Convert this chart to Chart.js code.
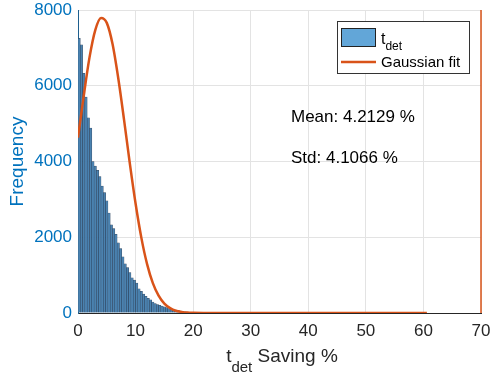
<!DOCTYPE html>
<html>
<head>
<meta charset="utf-8">
<script src="https://cdn.jsdelivr.net/npm/chart.js@4.4.0/dist/chart.umd.min.js"></script>
<style>
  html, body { margin: 0; padding: 0; background: #ffffff; }
  #wrap { width: 490px; height: 376px; }
</style>
</head>
<body>
<div id="wrap"><canvas id="histChart" width="490" height="376"></canvas></div>
<script>
// =================== DATA ===================
// histogram bins (width 0.4 %), counts
const binWidth = 0.4;
const binCounts = [
  7250, 7080, 6330, 5700, 5150, 4880, 4000, 3880, 3770, 3600,
  3350, 3180, 2960, 2640, 2330, 2230, 2080, 1850, 1700, 1480,
  1300, 1200, 1070, 930, 870, 790, 640, 570, 500, 440,
  390, 350, 290, 250, 225, 200, 180, 165, 140, 120,
  100, 90, 78, 68, 50, 38, 30, 25, 20, 18,
  15, 20, 12, 10, 14, 8, 6, 5
];

// gaussian fit curve
const fitX = [0, 1, 2, 3, 4, 5, 6, 7, 8, 9, 10, 11, 12, 13, 14, 15, 16, 17, 18, 19, 20, 22, 25, 30, 40, 50, 60.6];
const fitY = [4630, 5740, 6750, 7470, 7790, 7660, 7100, 6190, 5100, 3950, 2890, 1990, 1290, 790, 460, 250, 130, 60, 30, 12, 5, 1, 0, 0, 0, 0, 0];

const xTicks = [0, 10, 20, 30, 40, 50, 60, 70];
const yTicks = [0, 2000, 4000, 6000, 8000];

const meanText = 'Mean: 4.2129 %';
const stdText = 'Std: 4.1066 %';
const legendLabels = ['t', 'det', 'Gaussian fit'];

// =================== HELPERS ===================
const FONT = '"Liberation Sans", Arial, Helvetica, sans-serif';
const BLUE = '#0072BD';
const ORANGE = '#D95319';

const histPoints = binCounts.map((c, i) => ({ x: i * binWidth + binWidth / 2, y: c }));
const fitPoints = fitX.map((x, i) => ({ x: x, y: fitY[i] }));

// draws the texts that Chart.js can't do (subscripts, free annotations, custom legend)
const extrasPlugin = {
  id: 'extras',
  afterDraw(chart) {
    const ctx = chart.ctx;
    const area = chart.chartArea;
    ctx.save();

    // right axis line (orange)
    ctx.strokeStyle = ORANGE;
    ctx.lineWidth = 1.5;
    ctx.beginPath();
    ctx.moveTo(area.right, area.top);
    ctx.lineTo(area.right, area.bottom);
    ctx.stroke();

    // annotations
    ctx.fillStyle = '#000000';
    ctx.font = '17px ' + FONT;
    ctx.textAlign = 'left';
    ctx.textBaseline = 'middle';
    ctx.fillText(meanText, 291, 117);
    ctx.fillText(stdText, 291, 158);

    // legend box
    ctx.fillStyle = '#ffffff';
    ctx.fillRect(337.5, 21.5, 132, 52);
    ctx.strokeStyle = '#333333';
    ctx.lineWidth = 1;
    ctx.strokeRect(337.5, 21.5, 132, 52);

    ctx.fillStyle = '#62A6D8';
    ctx.fillRect(341, 28, 35, 19);
    ctx.strokeStyle = '#222222';
    ctx.strokeRect(341.5, 28.5, 34, 18);

    ctx.strokeStyle = ORANGE;
    ctx.lineWidth = 2.5;
    ctx.beginPath();
    ctx.moveTo(341, 62);
    ctx.lineTo(376, 62);
    ctx.stroke();

    ctx.fillStyle = '#000000';
    ctx.textBaseline = 'alphabetic';
    ctx.font = '16px ' + FONT;
    ctx.fillText(legendLabels[0], 381, 44);
    const tW = ctx.measureText(legendLabels[0]).width;
    ctx.font = '12px ' + FONT;
    ctx.fillText(legendLabels[1], 381 + tW, 50);
    ctx.font = '15px ' + FONT;
    ctx.fillText(legendLabels[2], 381, 67);

    // x axis title: t_det Saving %
    ctx.fillStyle = '#262626';
    const bigFont = '19px ' + FONT;
    const subFont = '15px ' + FONT;
    ctx.font = bigFont;
    const w1 = ctx.measureText('t').width;
    const w3 = ctx.measureText(' Saving %').width;
    ctx.font = subFont;
    const w2 = ctx.measureText('det').width;
    let x0 = 282 - (w1 + w2 + w3) / 2;
    ctx.font = bigFont;
    ctx.fillText('t', x0, 362);
    ctx.font = subFont;
    ctx.fillText('det', x0 + w1, 372);
    ctx.font = bigFont;
    ctx.fillText(' Saving %', x0 + w1 + w2, 362);

    ctx.restore();
  }
};

// =================== CHART ===================
const ctx = document.getElementById('histChart');

new Chart(ctx, {
  type: 'bar',
  data: {
    datasets: [
      {
        type: 'line',
        label: 'Gaussian fit',
        data: fitPoints,
        borderColor: ORANGE,
        borderWidth: 2.5,
        pointRadius: 0,
        cubicInterpolationMode: 'monotone',
        fill: false,
        order: 0
      },
      {
        type: 'bar',
        label: 'tdet',
        data: histPoints,
        backgroundColor: '#4A82B0',
        borderColor: 'rgba(25, 45, 70, 0.85)',
        borderWidth: 0.5,
        barPercentage: 1,
        categoryPercentage: 1,
        order: 1
      }
    ]
  },
  options: {
    responsive: false,
    animation: false,
    layout: { padding: { top: 10, right: 9, left: 0, bottom: 0 } },
    plugins: {
      legend: { display: false },
      tooltip: { enabled: false }
    },
    scales: {
      x: {
        type: 'linear',
        min: 0,
        max: 70,
        offset: false,
        afterBuildTicks: (scale) => { scale.ticks = xTicks.map(v => ({ value: v })); },
        afterFit: (scale) => {
          scale.height = 63;
          scale.paddingLeft = 0;
          scale.paddingRight = 0;
        },
        ticks: {
          color: '#262626',
          font: { size: 17, family: FONT },
          padding: 8,
          maxRotation: 0,
          callback: (v) => String(v)
        },
        grid: { color: '#e3e3e3', drawTicks: false, offset: false },
        border: { color: '#262626', width: 1 }
      },
      y: {
        min: 0,
        max: 8000,
        afterBuildTicks: (scale) => { scale.ticks = yTicks.map(v => ({ value: v })); },
        afterFit: (scale) => {
          scale.width = 78;
          scale.paddingTop = 0;
          scale.paddingBottom = 0;
        },
        ticks: {
          color: BLUE,
          font: { size: 17, family: FONT },
          padding: 6,
          callback: (v) => String(v)
        },
        title: {
          display: true,
          text: 'Frequency',
          color: BLUE,
          font: { size: 19, family: FONT },
          padding: { top: 6, bottom: 0 }
        },
        grid: { color: '#e3e3e3', drawTicks: false },
        border: { color: '#1e5f8e', width: 1 }
      }
    }
  },
  plugins: [extrasPlugin]
});
</script>
</body>
</html>
